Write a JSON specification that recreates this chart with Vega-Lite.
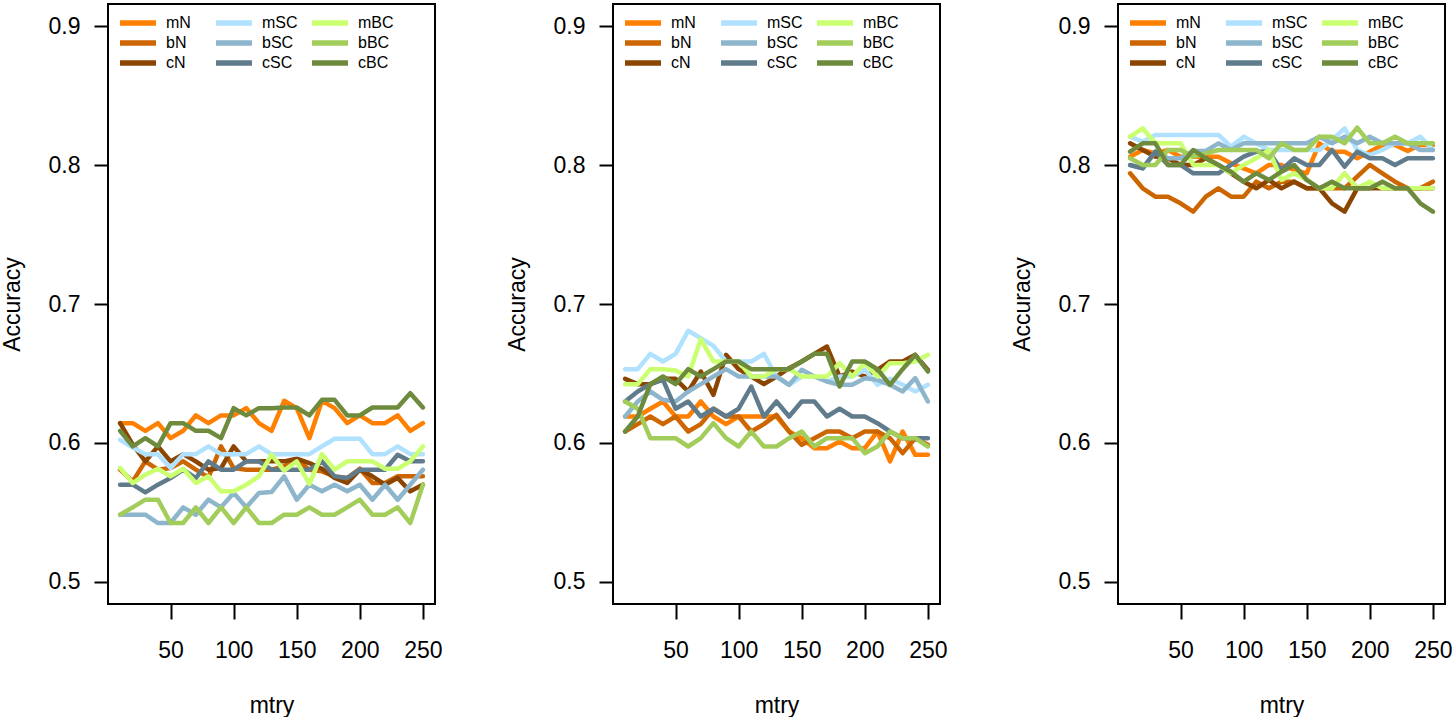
{
"$schema": "https://vega.github.io/schema/vega-lite/v6.json",
"padding": {"left": 0, "top": 3, "right": 0, "bottom": 0},
"background": "white",
"data": {"values": [
{"p":1,"s":"mN","x":10,"y":0.6142},{"p":1,"s":"mN","x":20,"y":0.6142},{"p":1,"s":"mN","x":30,"y":0.6087},{"p":1,"s":"mN","x":40,"y":0.6142},{"p":1,"s":"mN","x":50,"y":0.6034},{"p":1,"s":"mN","x":60,"y":0.6087},{"p":1,"s":"mN","x":70,"y":0.6198},{"p":1,"s":"mN","x":80,"y":0.6142},{"p":1,"s":"mN","x":90,"y":0.6198},{"p":1,"s":"mN","x":100,"y":0.6198},{"p":1,"s":"mN","x":110,"y":0.6250},{"p":1,"s":"mN","x":120,"y":0.6142},{"p":1,"s":"mN","x":130,"y":0.6087},{"p":1,"s":"mN","x":140,"y":0.6303},{"p":1,"s":"mN","x":150,"y":0.6250},{"p":1,"s":"mN","x":160,"y":0.6034},{"p":1,"s":"mN","x":170,"y":0.6303},{"p":1,"s":"mN","x":180,"y":0.6250},{"p":1,"s":"mN","x":190,"y":0.6142},{"p":1,"s":"mN","x":200,"y":0.6198},{"p":1,"s":"mN","x":210,"y":0.6142},{"p":1,"s":"mN","x":220,"y":0.6142},{"p":1,"s":"mN","x":230,"y":0.6198},{"p":1,"s":"mN","x":240,"y":0.6087},{"p":1,"s":"mN","x":250,"y":0.6142},
{"p":1,"s":"bN","x":10,"y":0.5807},{"p":1,"s":"bN","x":20,"y":0.5723},{"p":1,"s":"bN","x":30,"y":0.5867},{"p":1,"s":"bN","x":40,"y":0.5807},{"p":1,"s":"bN","x":50,"y":0.5819},{"p":1,"s":"bN","x":60,"y":0.5867},{"p":1,"s":"bN","x":70,"y":0.5807},{"p":1,"s":"bN","x":80,"y":0.5752},{"p":1,"s":"bN","x":90,"y":0.5975},{"p":1,"s":"bN","x":100,"y":0.5819},{"p":1,"s":"bN","x":110,"y":0.5807},{"p":1,"s":"bN","x":120,"y":0.5807},{"p":1,"s":"bN","x":130,"y":0.5807},{"p":1,"s":"bN","x":140,"y":0.5831},{"p":1,"s":"bN","x":150,"y":0.5879},{"p":1,"s":"bN","x":160,"y":0.5807},{"p":1,"s":"bN","x":170,"y":0.5795},{"p":1,"s":"bN","x":180,"y":0.5759},{"p":1,"s":"bN","x":190,"y":0.5747},{"p":1,"s":"bN","x":200,"y":0.5814},{"p":1,"s":"bN","x":210,"y":0.5711},{"p":1,"s":"bN","x":220,"y":0.5711},{"p":1,"s":"bN","x":230,"y":0.5759},{"p":1,"s":"bN","x":240,"y":0.5759},{"p":1,"s":"bN","x":250,"y":0.5759},
{"p":1,"s":"cN","x":10,"y":0.6142},{"p":1,"s":"cN","x":20,"y":0.5987},{"p":1,"s":"cN","x":30,"y":0.5867},{"p":1,"s":"cN","x":40,"y":0.5975},{"p":1,"s":"cN","x":50,"y":0.5867},{"p":1,"s":"cN","x":60,"y":0.5919},{"p":1,"s":"cN","x":70,"y":0.5867},{"p":1,"s":"cN","x":80,"y":0.5807},{"p":1,"s":"cN","x":90,"y":0.5819},{"p":1,"s":"cN","x":100,"y":0.5975},{"p":1,"s":"cN","x":110,"y":0.5867},{"p":1,"s":"cN","x":120,"y":0.5867},{"p":1,"s":"cN","x":130,"y":0.5867},{"p":1,"s":"cN","x":140,"y":0.5867},{"p":1,"s":"cN","x":150,"y":0.5886},{"p":1,"s":"cN","x":160,"y":0.5855},{"p":1,"s":"cN","x":170,"y":0.5814},{"p":1,"s":"cN","x":180,"y":0.5747},{"p":1,"s":"cN","x":190,"y":0.5711},{"p":1,"s":"cN","x":200,"y":0.5807},{"p":1,"s":"cN","x":210,"y":0.5759},{"p":1,"s":"cN","x":220,"y":0.5699},{"p":1,"s":"cN","x":230,"y":0.5747},{"p":1,"s":"cN","x":240,"y":0.5651},{"p":1,"s":"cN","x":250,"y":0.5699},
{"p":1,"s":"mSC","x":10,"y":0.6022},{"p":1,"s":"mSC","x":20,"y":0.5967},{"p":1,"s":"mSC","x":30,"y":0.5919},{"p":1,"s":"mSC","x":40,"y":0.5919},{"p":1,"s":"mSC","x":50,"y":0.5819},{"p":1,"s":"mSC","x":60,"y":0.5919},{"p":1,"s":"mSC","x":70,"y":0.5919},{"p":1,"s":"mSC","x":80,"y":0.5975},{"p":1,"s":"mSC","x":90,"y":0.5919},{"p":1,"s":"mSC","x":100,"y":0.5919},{"p":1,"s":"mSC","x":110,"y":0.5919},{"p":1,"s":"mSC","x":120,"y":0.5975},{"p":1,"s":"mSC","x":130,"y":0.5919},{"p":1,"s":"mSC","x":140,"y":0.5919},{"p":1,"s":"mSC","x":150,"y":0.5919},{"p":1,"s":"mSC","x":160,"y":0.5919},{"p":1,"s":"mSC","x":170,"y":0.5975},{"p":1,"s":"mSC","x":180,"y":0.6030},{"p":1,"s":"mSC","x":190,"y":0.6030},{"p":1,"s":"mSC","x":200,"y":0.6030},{"p":1,"s":"mSC","x":210,"y":0.5919},{"p":1,"s":"mSC","x":220,"y":0.5919},{"p":1,"s":"mSC","x":230,"y":0.5975},{"p":1,"s":"mSC","x":240,"y":0.5919},{"p":1,"s":"mSC","x":250,"y":0.5919},
{"p":1,"s":"bSC","x":10,"y":0.5483},{"p":1,"s":"bSC","x":20,"y":0.5483},{"p":1,"s":"bSC","x":30,"y":0.5483},{"p":1,"s":"bSC","x":40,"y":0.5423},{"p":1,"s":"bSC","x":50,"y":0.5423},{"p":1,"s":"bSC","x":60,"y":0.5536},{"p":1,"s":"bSC","x":70,"y":0.5483},{"p":1,"s":"bSC","x":80,"y":0.5591},{"p":1,"s":"bSC","x":90,"y":0.5536},{"p":1,"s":"bSC","x":100,"y":0.5639},{"p":1,"s":"bSC","x":110,"y":0.5536},{"p":1,"s":"bSC","x":120,"y":0.5639},{"p":1,"s":"bSC","x":130,"y":0.5646},{"p":1,"s":"bSC","x":140,"y":0.5759},{"p":1,"s":"bSC","x":150,"y":0.5591},{"p":1,"s":"bSC","x":160,"y":0.5699},{"p":1,"s":"bSC","x":170,"y":0.5651},{"p":1,"s":"bSC","x":180,"y":0.5699},{"p":1,"s":"bSC","x":190,"y":0.5651},{"p":1,"s":"bSC","x":200,"y":0.5699},{"p":1,"s":"bSC","x":210,"y":0.5591},{"p":1,"s":"bSC","x":220,"y":0.5699},{"p":1,"s":"bSC","x":230,"y":0.5591},{"p":1,"s":"bSC","x":240,"y":0.5699},{"p":1,"s":"bSC","x":250,"y":0.5807},
{"p":1,"s":"cSC","x":10,"y":0.5699},{"p":1,"s":"cSC","x":20,"y":0.5699},{"p":1,"s":"cSC","x":30,"y":0.5644},{"p":1,"s":"cSC","x":40,"y":0.5699},{"p":1,"s":"cSC","x":50,"y":0.5747},{"p":1,"s":"cSC","x":60,"y":0.5807},{"p":1,"s":"cSC","x":70,"y":0.5747},{"p":1,"s":"cSC","x":80,"y":0.5867},{"p":1,"s":"cSC","x":90,"y":0.5807},{"p":1,"s":"cSC","x":100,"y":0.5807},{"p":1,"s":"cSC","x":110,"y":0.5867},{"p":1,"s":"cSC","x":120,"y":0.5867},{"p":1,"s":"cSC","x":130,"y":0.5807},{"p":1,"s":"cSC","x":140,"y":0.5807},{"p":1,"s":"cSC","x":150,"y":0.5807},{"p":1,"s":"cSC","x":160,"y":0.5807},{"p":1,"s":"cSC","x":170,"y":0.5867},{"p":1,"s":"cSC","x":180,"y":0.5759},{"p":1,"s":"cSC","x":190,"y":0.5747},{"p":1,"s":"cSC","x":200,"y":0.5807},{"p":1,"s":"cSC","x":210,"y":0.5807},{"p":1,"s":"cSC","x":220,"y":0.5807},{"p":1,"s":"cSC","x":230,"y":0.5915},{"p":1,"s":"cSC","x":240,"y":0.5867},{"p":1,"s":"cSC","x":250,"y":0.5867},
{"p":1,"s":"mBC","x":10,"y":0.5819},{"p":1,"s":"mBC","x":20,"y":0.5711},{"p":1,"s":"mBC","x":30,"y":0.5771},{"p":1,"s":"mBC","x":40,"y":0.5814},{"p":1,"s":"mBC","x":50,"y":0.5759},{"p":1,"s":"mBC","x":60,"y":0.5814},{"p":1,"s":"mBC","x":70,"y":0.5711},{"p":1,"s":"mBC","x":80,"y":0.5759},{"p":1,"s":"mBC","x":90,"y":0.5651},{"p":1,"s":"mBC","x":100,"y":0.5651},{"p":1,"s":"mBC","x":110,"y":0.5699},{"p":1,"s":"mBC","x":120,"y":0.5759},{"p":1,"s":"mBC","x":130,"y":0.5915},{"p":1,"s":"mBC","x":140,"y":0.5800},{"p":1,"s":"mBC","x":150,"y":0.5867},{"p":1,"s":"mBC","x":160,"y":0.5704},{"p":1,"s":"mBC","x":170,"y":0.5919},{"p":1,"s":"mBC","x":180,"y":0.5807},{"p":1,"s":"mBC","x":190,"y":0.5867},{"p":1,"s":"mBC","x":200,"y":0.5867},{"p":1,"s":"mBC","x":210,"y":0.5867},{"p":1,"s":"mBC","x":220,"y":0.5814},{"p":1,"s":"mBC","x":230,"y":0.5814},{"p":1,"s":"mBC","x":240,"y":0.5867},{"p":1,"s":"mBC","x":250,"y":0.5975},
{"p":1,"s":"bBC","x":10,"y":0.5483},{"p":1,"s":"bBC","x":20,"y":0.5536},{"p":1,"s":"bBC","x":30,"y":0.5591},{"p":1,"s":"bBC","x":40,"y":0.5591},{"p":1,"s":"bBC","x":50,"y":0.5423},{"p":1,"s":"bBC","x":60,"y":0.5423},{"p":1,"s":"bBC","x":70,"y":0.5536},{"p":1,"s":"bBC","x":80,"y":0.5423},{"p":1,"s":"bBC","x":90,"y":0.5536},{"p":1,"s":"bBC","x":100,"y":0.5423},{"p":1,"s":"bBC","x":110,"y":0.5536},{"p":1,"s":"bBC","x":120,"y":0.5423},{"p":1,"s":"bBC","x":130,"y":0.5423},{"p":1,"s":"bBC","x":140,"y":0.5483},{"p":1,"s":"bBC","x":150,"y":0.5483},{"p":1,"s":"bBC","x":160,"y":0.5536},{"p":1,"s":"bBC","x":170,"y":0.5483},{"p":1,"s":"bBC","x":180,"y":0.5483},{"p":1,"s":"bBC","x":190,"y":0.5536},{"p":1,"s":"bBC","x":200,"y":0.5591},{"p":1,"s":"bBC","x":210,"y":0.5483},{"p":1,"s":"bBC","x":220,"y":0.5483},{"p":1,"s":"bBC","x":230,"y":0.5536},{"p":1,"s":"bBC","x":240,"y":0.5423},{"p":1,"s":"bBC","x":250,"y":0.5699},
{"p":1,"s":"cBC","x":10,"y":0.6087},{"p":1,"s":"cBC","x":20,"y":0.5975},{"p":1,"s":"cBC","x":30,"y":0.6034},{"p":1,"s":"cBC","x":40,"y":0.5975},{"p":1,"s":"cBC","x":50,"y":0.6142},{"p":1,"s":"cBC","x":60,"y":0.6142},{"p":1,"s":"cBC","x":70,"y":0.6087},{"p":1,"s":"cBC","x":80,"y":0.6087},{"p":1,"s":"cBC","x":90,"y":0.6034},{"p":1,"s":"cBC","x":100,"y":0.6250},{"p":1,"s":"cBC","x":110,"y":0.6198},{"p":1,"s":"cBC","x":120,"y":0.6250},{"p":1,"s":"cBC","x":130,"y":0.6250},{"p":1,"s":"cBC","x":140,"y":0.6255},{"p":1,"s":"cBC","x":150,"y":0.6255},{"p":1,"s":"cBC","x":160,"y":0.6198},{"p":1,"s":"cBC","x":170,"y":0.6310},{"p":1,"s":"cBC","x":180,"y":0.6310},{"p":1,"s":"cBC","x":190,"y":0.6198},{"p":1,"s":"cBC","x":200,"y":0.6198},{"p":1,"s":"cBC","x":210,"y":0.6255},{"p":1,"s":"cBC","x":220,"y":0.6255},{"p":1,"s":"cBC","x":230,"y":0.6255},{"p":1,"s":"cBC","x":240,"y":0.6358},{"p":1,"s":"cBC","x":250,"y":0.6255},
{"p":2,"s":"mN","x":10,"y":0.6190},{"p":2,"s":"mN","x":20,"y":0.6190},{"p":2,"s":"mN","x":30,"y":0.6246},{"p":2,"s":"mN","x":40,"y":0.6298},{"p":2,"s":"mN","x":50,"y":0.6190},{"p":2,"s":"mN","x":60,"y":0.6190},{"p":2,"s":"mN","x":70,"y":0.6298},{"p":2,"s":"mN","x":80,"y":0.6190},{"p":2,"s":"mN","x":90,"y":0.6135},{"p":2,"s":"mN","x":100,"y":0.6190},{"p":2,"s":"mN","x":110,"y":0.6190},{"p":2,"s":"mN","x":120,"y":0.6190},{"p":2,"s":"mN","x":130,"y":0.6190},{"p":2,"s":"mN","x":140,"y":0.6082},{"p":2,"s":"mN","x":150,"y":0.6034},{"p":2,"s":"mN","x":160,"y":0.5962},{"p":2,"s":"mN","x":170,"y":0.5962},{"p":2,"s":"mN","x":180,"y":0.6010},{"p":2,"s":"mN","x":190,"y":0.5962},{"p":2,"s":"mN","x":200,"y":0.5962},{"p":2,"s":"mN","x":210,"y":0.6082},{"p":2,"s":"mN","x":220,"y":0.5867},{"p":2,"s":"mN","x":230,"y":0.6082},{"p":2,"s":"mN","x":240,"y":0.5914},{"p":2,"s":"mN","x":250,"y":0.5914},
{"p":2,"s":"bN","x":10,"y":0.6082},{"p":2,"s":"bN","x":20,"y":0.6135},{"p":2,"s":"bN","x":30,"y":0.6190},{"p":2,"s":"bN","x":40,"y":0.6135},{"p":2,"s":"bN","x":50,"y":0.6190},{"p":2,"s":"bN","x":60,"y":0.6082},{"p":2,"s":"bN","x":70,"y":0.6135},{"p":2,"s":"bN","x":80,"y":0.6246},{"p":2,"s":"bN","x":90,"y":0.6190},{"p":2,"s":"bN","x":100,"y":0.6190},{"p":2,"s":"bN","x":110,"y":0.6082},{"p":2,"s":"bN","x":120,"y":0.6135},{"p":2,"s":"bN","x":130,"y":0.6202},{"p":2,"s":"bN","x":140,"y":0.6082},{"p":2,"s":"bN","x":150,"y":0.5986},{"p":2,"s":"bN","x":160,"y":0.6034},{"p":2,"s":"bN","x":170,"y":0.6082},{"p":2,"s":"bN","x":180,"y":0.6082},{"p":2,"s":"bN","x":190,"y":0.6034},{"p":2,"s":"bN","x":200,"y":0.6082},{"p":2,"s":"bN","x":210,"y":0.6082},{"p":2,"s":"bN","x":220,"y":0.6034},{"p":2,"s":"bN","x":230,"y":0.5926},{"p":2,"s":"bN","x":240,"y":0.6034},{"p":2,"s":"bN","x":250,"y":0.5986},
{"p":2,"s":"cN","x":10,"y":0.6461},{"p":2,"s":"cN","x":20,"y":0.6423},{"p":2,"s":"cN","x":30,"y":0.6423},{"p":2,"s":"cN","x":40,"y":0.6461},{"p":2,"s":"cN","x":50,"y":0.6461},{"p":2,"s":"cN","x":60,"y":0.6370},{"p":2,"s":"cN","x":70,"y":0.6514},{"p":2,"s":"cN","x":80,"y":0.6346},{"p":2,"s":"cN","x":90,"y":0.6634},{"p":2,"s":"cN","x":100,"y":0.6531},{"p":2,"s":"cN","x":110,"y":0.6478},{"p":2,"s":"cN","x":120,"y":0.6423},{"p":2,"s":"cN","x":130,"y":0.6478},{"p":2,"s":"cN","x":140,"y":0.6538},{"p":2,"s":"cN","x":150,"y":0.6586},{"p":2,"s":"cN","x":160,"y":0.6641},{"p":2,"s":"cN","x":170,"y":0.6694},{"p":2,"s":"cN","x":180,"y":0.6478},{"p":2,"s":"cN","x":190,"y":0.6514},{"p":2,"s":"cN","x":200,"y":0.6478},{"p":2,"s":"cN","x":210,"y":0.6526},{"p":2,"s":"cN","x":220,"y":0.6586},{"p":2,"s":"cN","x":230,"y":0.6586},{"p":2,"s":"cN","x":240,"y":0.6634},{"p":2,"s":"cN","x":250,"y":0.6526},
{"p":2,"s":"mSC","x":10,"y":0.6531},{"p":2,"s":"mSC","x":20,"y":0.6531},{"p":2,"s":"mSC","x":30,"y":0.6641},{"p":2,"s":"mSC","x":40,"y":0.6586},{"p":2,"s":"mSC","x":50,"y":0.6641},{"p":2,"s":"mSC","x":60,"y":0.6807},{"p":2,"s":"mSC","x":70,"y":0.6754},{"p":2,"s":"mSC","x":80,"y":0.6699},{"p":2,"s":"mSC","x":90,"y":0.6586},{"p":2,"s":"mSC","x":100,"y":0.6586},{"p":2,"s":"mSC","x":110,"y":0.6586},{"p":2,"s":"mSC","x":120,"y":0.6641},{"p":2,"s":"mSC","x":130,"y":0.6478},{"p":2,"s":"mSC","x":140,"y":0.6418},{"p":2,"s":"mSC","x":150,"y":0.6478},{"p":2,"s":"mSC","x":160,"y":0.6478},{"p":2,"s":"mSC","x":170,"y":0.6442},{"p":2,"s":"mSC","x":180,"y":0.6478},{"p":2,"s":"mSC","x":190,"y":0.6478},{"p":2,"s":"mSC","x":200,"y":0.6526},{"p":2,"s":"mSC","x":210,"y":0.6418},{"p":2,"s":"mSC","x":220,"y":0.6461},{"p":2,"s":"mSC","x":230,"y":0.6418},{"p":2,"s":"mSC","x":240,"y":0.6370},{"p":2,"s":"mSC","x":250,"y":0.6418},
{"p":2,"s":"bSC","x":10,"y":0.6190},{"p":2,"s":"bSC","x":20,"y":0.6298},{"p":2,"s":"bSC","x":30,"y":0.6370},{"p":2,"s":"bSC","x":40,"y":0.6310},{"p":2,"s":"bSC","x":50,"y":0.6298},{"p":2,"s":"bSC","x":60,"y":0.6370},{"p":2,"s":"bSC","x":70,"y":0.6423},{"p":2,"s":"bSC","x":80,"y":0.6478},{"p":2,"s":"bSC","x":90,"y":0.6531},{"p":2,"s":"bSC","x":100,"y":0.6478},{"p":2,"s":"bSC","x":110,"y":0.6478},{"p":2,"s":"bSC","x":120,"y":0.6478},{"p":2,"s":"bSC","x":130,"y":0.6478},{"p":2,"s":"bSC","x":140,"y":0.6418},{"p":2,"s":"bSC","x":150,"y":0.6526},{"p":2,"s":"bSC","x":160,"y":0.6478},{"p":2,"s":"bSC","x":170,"y":0.6442},{"p":2,"s":"bSC","x":180,"y":0.6418},{"p":2,"s":"bSC","x":190,"y":0.6418},{"p":2,"s":"bSC","x":200,"y":0.6466},{"p":2,"s":"bSC","x":210,"y":0.6454},{"p":2,"s":"bSC","x":220,"y":0.6418},{"p":2,"s":"bSC","x":230,"y":0.6370},{"p":2,"s":"bSC","x":240,"y":0.6466},{"p":2,"s":"bSC","x":250,"y":0.6298},
{"p":2,"s":"cSC","x":10,"y":0.6298},{"p":2,"s":"cSC","x":20,"y":0.6370},{"p":2,"s":"cSC","x":30,"y":0.6423},{"p":2,"s":"cSC","x":40,"y":0.6454},{"p":2,"s":"cSC","x":50,"y":0.6246},{"p":2,"s":"cSC","x":60,"y":0.6298},{"p":2,"s":"cSC","x":70,"y":0.6190},{"p":2,"s":"cSC","x":80,"y":0.6246},{"p":2,"s":"cSC","x":90,"y":0.6190},{"p":2,"s":"cSC","x":100,"y":0.6246},{"p":2,"s":"cSC","x":110,"y":0.6406},{"p":2,"s":"cSC","x":120,"y":0.6190},{"p":2,"s":"cSC","x":130,"y":0.6298},{"p":2,"s":"cSC","x":140,"y":0.6190},{"p":2,"s":"cSC","x":150,"y":0.6298},{"p":2,"s":"cSC","x":160,"y":0.6298},{"p":2,"s":"cSC","x":170,"y":0.6190},{"p":2,"s":"cSC","x":180,"y":0.6246},{"p":2,"s":"cSC","x":190,"y":0.6190},{"p":2,"s":"cSC","x":200,"y":0.6190},{"p":2,"s":"cSC","x":210,"y":0.6142},{"p":2,"s":"cSC","x":220,"y":0.6082},{"p":2,"s":"cSC","x":230,"y":0.6034},{"p":2,"s":"cSC","x":240,"y":0.6034},{"p":2,"s":"cSC","x":250,"y":0.6034},
{"p":2,"s":"mBC","x":10,"y":0.6423},{"p":2,"s":"mBC","x":20,"y":0.6423},{"p":2,"s":"mBC","x":30,"y":0.6531},{"p":2,"s":"mBC","x":40,"y":0.6531},{"p":2,"s":"mBC","x":50,"y":0.6521},{"p":2,"s":"mBC","x":60,"y":0.6478},{"p":2,"s":"mBC","x":70,"y":0.6747},{"p":2,"s":"mBC","x":80,"y":0.6586},{"p":2,"s":"mBC","x":90,"y":0.6586},{"p":2,"s":"mBC","x":100,"y":0.6586},{"p":2,"s":"mBC","x":110,"y":0.6478},{"p":2,"s":"mBC","x":120,"y":0.6478},{"p":2,"s":"mBC","x":130,"y":0.6531},{"p":2,"s":"mBC","x":140,"y":0.6531},{"p":2,"s":"mBC","x":150,"y":0.6478},{"p":2,"s":"mBC","x":160,"y":0.6478},{"p":2,"s":"mBC","x":170,"y":0.6478},{"p":2,"s":"mBC","x":180,"y":0.6574},{"p":2,"s":"mBC","x":190,"y":0.6478},{"p":2,"s":"mBC","x":200,"y":0.6574},{"p":2,"s":"mBC","x":210,"y":0.6478},{"p":2,"s":"mBC","x":220,"y":0.6574},{"p":2,"s":"mBC","x":230,"y":0.6574},{"p":2,"s":"mBC","x":240,"y":0.6586},{"p":2,"s":"mBC","x":250,"y":0.6634},
{"p":2,"s":"bBC","x":10,"y":0.6298},{"p":2,"s":"bBC","x":20,"y":0.6246},{"p":2,"s":"bBC","x":30,"y":0.6034},{"p":2,"s":"bBC","x":40,"y":0.6034},{"p":2,"s":"bBC","x":50,"y":0.6034},{"p":2,"s":"bBC","x":60,"y":0.5974},{"p":2,"s":"bBC","x":70,"y":0.6034},{"p":2,"s":"bBC","x":80,"y":0.6142},{"p":2,"s":"bBC","x":90,"y":0.6034},{"p":2,"s":"bBC","x":100,"y":0.5974},{"p":2,"s":"bBC","x":110,"y":0.6082},{"p":2,"s":"bBC","x":120,"y":0.5974},{"p":2,"s":"bBC","x":130,"y":0.5974},{"p":2,"s":"bBC","x":140,"y":0.6034},{"p":2,"s":"bBC","x":150,"y":0.6082},{"p":2,"s":"bBC","x":160,"y":0.5974},{"p":2,"s":"bBC","x":170,"y":0.6034},{"p":2,"s":"bBC","x":180,"y":0.6034},{"p":2,"s":"bBC","x":190,"y":0.6034},{"p":2,"s":"bBC","x":200,"y":0.5926},{"p":2,"s":"bBC","x":210,"y":0.5974},{"p":2,"s":"bBC","x":220,"y":0.6082},{"p":2,"s":"bBC","x":230,"y":0.6034},{"p":2,"s":"bBC","x":240,"y":0.6034},{"p":2,"s":"bBC","x":250,"y":0.5974},
{"p":2,"s":"cBC","x":10,"y":0.6082},{"p":2,"s":"cBC","x":20,"y":0.6190},{"p":2,"s":"cBC","x":30,"y":0.6423},{"p":2,"s":"cBC","x":40,"y":0.6478},{"p":2,"s":"cBC","x":50,"y":0.6423},{"p":2,"s":"cBC","x":60,"y":0.6531},{"p":2,"s":"cBC","x":70,"y":0.6478},{"p":2,"s":"cBC","x":80,"y":0.6531},{"p":2,"s":"cBC","x":90,"y":0.6586},{"p":2,"s":"cBC","x":100,"y":0.6586},{"p":2,"s":"cBC","x":110,"y":0.6531},{"p":2,"s":"cBC","x":120,"y":0.6531},{"p":2,"s":"cBC","x":130,"y":0.6531},{"p":2,"s":"cBC","x":140,"y":0.6531},{"p":2,"s":"cBC","x":150,"y":0.6586},{"p":2,"s":"cBC","x":160,"y":0.6641},{"p":2,"s":"cBC","x":170,"y":0.6641},{"p":2,"s":"cBC","x":180,"y":0.6406},{"p":2,"s":"cBC","x":190,"y":0.6586},{"p":2,"s":"cBC","x":200,"y":0.6586},{"p":2,"s":"cBC","x":210,"y":0.6531},{"p":2,"s":"cBC","x":220,"y":0.6418},{"p":2,"s":"cBC","x":230,"y":0.6531},{"p":2,"s":"cBC","x":240,"y":0.6634},{"p":2,"s":"cBC","x":250,"y":0.6514},
{"p":3,"s":"mN","x":10,"y":0.8061},{"p":3,"s":"mN","x":20,"y":0.8109},{"p":3,"s":"mN","x":30,"y":0.8085},{"p":3,"s":"mN","x":40,"y":0.8109},{"p":3,"s":"mN","x":50,"y":0.8061},{"p":3,"s":"mN","x":60,"y":0.8061},{"p":3,"s":"mN","x":70,"y":0.8061},{"p":3,"s":"mN","x":80,"y":0.8061},{"p":3,"s":"mN","x":90,"y":0.8013},{"p":3,"s":"mN","x":100,"y":0.7977},{"p":3,"s":"mN","x":110,"y":0.7941},{"p":3,"s":"mN","x":120,"y":0.8001},{"p":3,"s":"mN","x":130,"y":0.8001},{"p":3,"s":"mN","x":140,"y":0.7965},{"p":3,"s":"mN","x":150,"y":0.7941},{"p":3,"s":"mN","x":160,"y":0.8157},{"p":3,"s":"mN","x":170,"y":0.8097},{"p":3,"s":"mN","x":180,"y":0.8097},{"p":3,"s":"mN","x":190,"y":0.8049},{"p":3,"s":"mN","x":200,"y":0.8097},{"p":3,"s":"mN","x":210,"y":0.8145},{"p":3,"s":"mN","x":220,"y":0.8145},{"p":3,"s":"mN","x":230,"y":0.8102},{"p":3,"s":"mN","x":240,"y":0.8145},{"p":3,"s":"mN","x":250,"y":0.8145},
{"p":3,"s":"bN","x":10,"y":0.7941},{"p":3,"s":"bN","x":20,"y":0.7833},{"p":3,"s":"bN","x":30,"y":0.7773},{"p":3,"s":"bN","x":40,"y":0.7773},{"p":3,"s":"bN","x":50,"y":0.7725},{"p":3,"s":"bN","x":60,"y":0.7665},{"p":3,"s":"bN","x":70,"y":0.7773},{"p":3,"s":"bN","x":80,"y":0.7833},{"p":3,"s":"bN","x":90,"y":0.7773},{"p":3,"s":"bN","x":100,"y":0.7773},{"p":3,"s":"bN","x":110,"y":0.7881},{"p":3,"s":"bN","x":120,"y":0.7833},{"p":3,"s":"bN","x":130,"y":0.7881},{"p":3,"s":"bN","x":140,"y":0.7881},{"p":3,"s":"bN","x":150,"y":0.7833},{"p":3,"s":"bN","x":160,"y":0.7833},{"p":3,"s":"bN","x":170,"y":0.7833},{"p":3,"s":"bN","x":180,"y":0.7833},{"p":3,"s":"bN","x":190,"y":0.7917},{"p":3,"s":"bN","x":200,"y":0.8001},{"p":3,"s":"bN","x":210,"y":0.7941},{"p":3,"s":"bN","x":220,"y":0.7881},{"p":3,"s":"bN","x":230,"y":0.7833},{"p":3,"s":"bN","x":240,"y":0.7833},{"p":3,"s":"bN","x":250,"y":0.7881},
{"p":3,"s":"cN","x":10,"y":0.8157},{"p":3,"s":"cN","x":20,"y":0.8109},{"p":3,"s":"cN","x":30,"y":0.8061},{"p":3,"s":"cN","x":40,"y":0.8049},{"p":3,"s":"cN","x":50,"y":0.8001},{"p":3,"s":"cN","x":60,"y":0.8001},{"p":3,"s":"cN","x":70,"y":0.8049},{"p":3,"s":"cN","x":80,"y":0.8001},{"p":3,"s":"cN","x":90,"y":0.7941},{"p":3,"s":"cN","x":100,"y":0.7881},{"p":3,"s":"cN","x":110,"y":0.7833},{"p":3,"s":"cN","x":120,"y":0.7893},{"p":3,"s":"cN","x":130,"y":0.7833},{"p":3,"s":"cN","x":140,"y":0.7881},{"p":3,"s":"cN","x":150,"y":0.7833},{"p":3,"s":"cN","x":160,"y":0.7833},{"p":3,"s":"cN","x":170,"y":0.7725},{"p":3,"s":"cN","x":180,"y":0.7665},{"p":3,"s":"cN","x":190,"y":0.7833},{"p":3,"s":"cN","x":200,"y":0.7833},{"p":3,"s":"cN","x":210,"y":0.7833},{"p":3,"s":"cN","x":220,"y":0.7833},{"p":3,"s":"cN","x":230,"y":0.7833},{"p":3,"s":"cN","x":240,"y":0.7833},{"p":3,"s":"cN","x":250,"y":0.7833},
{"p":3,"s":"mSC","x":10,"y":0.8205},{"p":3,"s":"mSC","x":20,"y":0.8169},{"p":3,"s":"mSC","x":30,"y":0.8217},{"p":3,"s":"mSC","x":40,"y":0.8217},{"p":3,"s":"mSC","x":50,"y":0.8217},{"p":3,"s":"mSC","x":60,"y":0.8217},{"p":3,"s":"mSC","x":70,"y":0.8217},{"p":3,"s":"mSC","x":80,"y":0.8217},{"p":3,"s":"mSC","x":90,"y":0.8133},{"p":3,"s":"mSC","x":100,"y":0.8205},{"p":3,"s":"mSC","x":110,"y":0.8157},{"p":3,"s":"mSC","x":120,"y":0.8109},{"p":3,"s":"mSC","x":130,"y":0.8109},{"p":3,"s":"mSC","x":140,"y":0.8109},{"p":3,"s":"mSC","x":150,"y":0.8109},{"p":3,"s":"mSC","x":160,"y":0.8109},{"p":3,"s":"mSC","x":170,"y":0.8181},{"p":3,"s":"mSC","x":180,"y":0.8265},{"p":3,"s":"mSC","x":190,"y":0.8109},{"p":3,"s":"mSC","x":200,"y":0.8073},{"p":3,"s":"mSC","x":210,"y":0.8109},{"p":3,"s":"mSC","x":220,"y":0.8157},{"p":3,"s":"mSC","x":230,"y":0.8157},{"p":3,"s":"mSC","x":240,"y":0.8205},{"p":3,"s":"mSC","x":250,"y":0.8109},
{"p":3,"s":"bSC","x":10,"y":0.8001},{"p":3,"s":"bSC","x":20,"y":0.7977},{"p":3,"s":"bSC","x":30,"y":0.8097},{"p":3,"s":"bSC","x":40,"y":0.8049},{"p":3,"s":"bSC","x":50,"y":0.8049},{"p":3,"s":"bSC","x":60,"y":0.8102},{"p":3,"s":"bSC","x":70,"y":0.8102},{"p":3,"s":"bSC","x":80,"y":0.8157},{"p":3,"s":"bSC","x":90,"y":0.8109},{"p":3,"s":"bSC","x":100,"y":0.8157},{"p":3,"s":"bSC","x":110,"y":0.8157},{"p":3,"s":"bSC","x":120,"y":0.8157},{"p":3,"s":"bSC","x":130,"y":0.8157},{"p":3,"s":"bSC","x":140,"y":0.8157},{"p":3,"s":"bSC","x":150,"y":0.8157},{"p":3,"s":"bSC","x":160,"y":0.8205},{"p":3,"s":"bSC","x":170,"y":0.8157},{"p":3,"s":"bSC","x":180,"y":0.8205},{"p":3,"s":"bSC","x":190,"y":0.8157},{"p":3,"s":"bSC","x":200,"y":0.8205},{"p":3,"s":"bSC","x":210,"y":0.8157},{"p":3,"s":"bSC","x":220,"y":0.8157},{"p":3,"s":"bSC","x":230,"y":0.8157},{"p":3,"s":"bSC","x":240,"y":0.8109},{"p":3,"s":"bSC","x":250,"y":0.8109},
{"p":3,"s":"cSC","x":10,"y":0.8001},{"p":3,"s":"cSC","x":20,"y":0.7977},{"p":3,"s":"cSC","x":30,"y":0.8097},{"p":3,"s":"cSC","x":40,"y":0.8001},{"p":3,"s":"cSC","x":50,"y":0.8001},{"p":3,"s":"cSC","x":60,"y":0.7941},{"p":3,"s":"cSC","x":70,"y":0.7941},{"p":3,"s":"cSC","x":80,"y":0.7941},{"p":3,"s":"cSC","x":90,"y":0.8001},{"p":3,"s":"cSC","x":100,"y":0.8061},{"p":3,"s":"cSC","x":110,"y":0.8097},{"p":3,"s":"cSC","x":120,"y":0.8097},{"p":3,"s":"cSC","x":130,"y":0.7965},{"p":3,"s":"cSC","x":140,"y":0.8049},{"p":3,"s":"cSC","x":150,"y":0.8001},{"p":3,"s":"cSC","x":160,"y":0.8001},{"p":3,"s":"cSC","x":170,"y":0.8109},{"p":3,"s":"cSC","x":180,"y":0.7989},{"p":3,"s":"cSC","x":190,"y":0.8097},{"p":3,"s":"cSC","x":200,"y":0.8049},{"p":3,"s":"cSC","x":210,"y":0.8049},{"p":3,"s":"cSC","x":220,"y":0.8001},{"p":3,"s":"cSC","x":230,"y":0.8049},{"p":3,"s":"cSC","x":240,"y":0.8049},{"p":3,"s":"cSC","x":250,"y":0.8049},
{"p":3,"s":"mBC","x":10,"y":0.8205},{"p":3,"s":"mBC","x":20,"y":0.8265},{"p":3,"s":"mBC","x":30,"y":0.8157},{"p":3,"s":"mBC","x":40,"y":0.8157},{"p":3,"s":"mBC","x":50,"y":0.8157},{"p":3,"s":"mBC","x":60,"y":0.8001},{"p":3,"s":"mBC","x":70,"y":0.8001},{"p":3,"s":"mBC","x":80,"y":0.8001},{"p":3,"s":"mBC","x":90,"y":0.7941},{"p":3,"s":"mBC","x":100,"y":0.8001},{"p":3,"s":"mBC","x":110,"y":0.8049},{"p":3,"s":"mBC","x":120,"y":0.8109},{"p":3,"s":"mBC","x":130,"y":0.7893},{"p":3,"s":"mBC","x":140,"y":0.7941},{"p":3,"s":"mBC","x":150,"y":0.7893},{"p":3,"s":"mBC","x":160,"y":0.7833},{"p":3,"s":"mBC","x":170,"y":0.7833},{"p":3,"s":"mBC","x":180,"y":0.7941},{"p":3,"s":"mBC","x":190,"y":0.7833},{"p":3,"s":"mBC","x":200,"y":0.7881},{"p":3,"s":"mBC","x":210,"y":0.7833},{"p":3,"s":"mBC","x":220,"y":0.7833},{"p":3,"s":"mBC","x":230,"y":0.7833},{"p":3,"s":"mBC","x":240,"y":0.7833},{"p":3,"s":"mBC","x":250,"y":0.7833},
{"p":3,"s":"bBC","x":10,"y":0.8049},{"p":3,"s":"bBC","x":20,"y":0.8001},{"p":3,"s":"bBC","x":30,"y":0.8001},{"p":3,"s":"bBC","x":40,"y":0.8109},{"p":3,"s":"bBC","x":50,"y":0.8109},{"p":3,"s":"bBC","x":60,"y":0.8061},{"p":3,"s":"bBC","x":70,"y":0.8085},{"p":3,"s":"bBC","x":80,"y":0.8109},{"p":3,"s":"bBC","x":90,"y":0.8109},{"p":3,"s":"bBC","x":100,"y":0.8109},{"p":3,"s":"bBC","x":110,"y":0.8109},{"p":3,"s":"bBC","x":120,"y":0.8049},{"p":3,"s":"bBC","x":130,"y":0.8157},{"p":3,"s":"bBC","x":140,"y":0.8109},{"p":3,"s":"bBC","x":150,"y":0.8109},{"p":3,"s":"bBC","x":160,"y":0.8205},{"p":3,"s":"bBC","x":170,"y":0.8205},{"p":3,"s":"bBC","x":180,"y":0.8157},{"p":3,"s":"bBC","x":190,"y":0.8270},{"p":3,"s":"bBC","x":200,"y":0.8157},{"p":3,"s":"bBC","x":210,"y":0.8157},{"p":3,"s":"bBC","x":220,"y":0.8205},{"p":3,"s":"bBC","x":230,"y":0.8157},{"p":3,"s":"bBC","x":240,"y":0.8157},{"p":3,"s":"bBC","x":250,"y":0.8157},
{"p":3,"s":"cBC","x":10,"y":0.8097},{"p":3,"s":"cBC","x":20,"y":0.8157},{"p":3,"s":"cBC","x":30,"y":0.8157},{"p":3,"s":"cBC","x":40,"y":0.8001},{"p":3,"s":"cBC","x":50,"y":0.8001},{"p":3,"s":"cBC","x":60,"y":0.8109},{"p":3,"s":"cBC","x":70,"y":0.8049},{"p":3,"s":"cBC","x":80,"y":0.8001},{"p":3,"s":"cBC","x":90,"y":0.7953},{"p":3,"s":"cBC","x":100,"y":0.7881},{"p":3,"s":"cBC","x":110,"y":0.7941},{"p":3,"s":"cBC","x":120,"y":0.7893},{"p":3,"s":"cBC","x":130,"y":0.7953},{"p":3,"s":"cBC","x":140,"y":0.8001},{"p":3,"s":"cBC","x":150,"y":0.7893},{"p":3,"s":"cBC","x":160,"y":0.7833},{"p":3,"s":"cBC","x":170,"y":0.7881},{"p":3,"s":"cBC","x":180,"y":0.7833},{"p":3,"s":"cBC","x":190,"y":0.7833},{"p":3,"s":"cBC","x":200,"y":0.7833},{"p":3,"s":"cBC","x":210,"y":0.7881},{"p":3,"s":"cBC","x":220,"y":0.7833},{"p":3,"s":"cBC","x":230,"y":0.7833},{"p":3,"s":"cBC","x":240,"y":0.7725},{"p":3,"s":"cBC","x":250,"y":0.7665}
]},
"spacing": 178,
"bounds": "flush",
"resolve": {"scale": {"color": "independent"}, "legend": {"color": "independent"}},
"hconcat": [
{"width": 327, "height": 600, "transform": [{"filter": "datum.p == 1"}],
 "mark": {"type": "line", "strokeWidth": 4.5, "strokeCap": "round", "strokeJoin": "round"},
 "encoding": {
  "x": {"field": "x", "type": "quantitative", "scale": {"domain": [0.4, 259.6], "nice": false, "zero": false}, "axis": {"values": [50, 100, 150, 200, 250], "title": "mtry"}},
  "y": {"field": "y", "type": "quantitative", "scale": {"domain": [0.484, 0.916], "nice": false, "zero": false}, "axis": {"values": [0.5, 0.6, 0.7, 0.8, 0.9], "format": ".1f", "title": "Accuracy"}},
  "color": {"field": "s", "type": "nominal", "scale": {"domain": ["mN","bN","cN","mSC","bSC","cSC","mBC","bBC","cBC"], "range": ["#FF7F00","#CD6600","#8B4500","#B0E2FF","#8DB6CD","#607B8B","#CAFF70","#A2CD5A","#6E8B3D"]}, "legend": {"title": null, "orient": "none", "legendX": 21, "legendY": 10}}
 }},
{"width": 327, "height": 600, "transform": [{"filter": "datum.p == 2"}],
 "mark": {"type": "line", "strokeWidth": 4.5, "strokeCap": "round", "strokeJoin": "round"},
 "encoding": {
  "x": {"field": "x", "type": "quantitative", "scale": {"domain": [0.4, 259.6], "nice": false, "zero": false}, "axis": {"values": [50, 100, 150, 200, 250], "title": "mtry"}},
  "y": {"field": "y", "type": "quantitative", "scale": {"domain": [0.484, 0.916], "nice": false, "zero": false}, "axis": {"values": [0.5, 0.6, 0.7, 0.8, 0.9], "format": ".1f", "title": "Accuracy"}},
  "color": {"field": "s", "type": "nominal", "scale": {"domain": ["mN","bN","cN","mSC","bSC","cSC","mBC","bBC","cBC"], "range": ["#FF7F00","#CD6600","#8B4500","#B0E2FF","#8DB6CD","#607B8B","#CAFF70","#A2CD5A","#6E8B3D"]}, "legend": {"title": null, "orient": "none", "legendX": 21, "legendY": 10}}
 }},
{"width": 327, "height": 600, "transform": [{"filter": "datum.p == 3"}],
 "mark": {"type": "line", "strokeWidth": 4.5, "strokeCap": "round", "strokeJoin": "round"},
 "encoding": {
  "x": {"field": "x", "type": "quantitative", "scale": {"domain": [0.4, 259.6], "nice": false, "zero": false}, "axis": {"values": [50, 100, 150, 200, 250], "title": "mtry"}},
  "y": {"field": "y", "type": "quantitative", "scale": {"domain": [0.484, 0.916], "nice": false, "zero": false}, "axis": {"values": [0.5, 0.6, 0.7, 0.8, 0.9], "format": ".1f", "title": "Accuracy"}},
  "color": {"field": "s", "type": "nominal", "scale": {"domain": ["mN","bN","cN","mSC","bSC","cSC","mBC","bBC","cBC"], "range": ["#FF7F00","#CD6600","#8B4500","#B0E2FF","#8DB6CD","#607B8B","#CAFF70","#A2CD5A","#6E8B3D"]}, "legend": {"title": null, "orient": "none", "legendX": 21, "legendY": 10}}
 }}
],
"config": {
 "font": "Liberation Sans",
 "view": {"stroke": "black", "strokeWidth": 2},
 "axis": {"domain": false, "grid": false, "tickColor": "black", "tickWidth": 2, "labelColor": "black", "titleColor": "black", "labelFontSize": 23, "titleFontSize": 23, "titleFontWeight": "normal", "labelFont": "Liberation Sans", "titleFont": "Liberation Sans", "labelFlush": false, "labelOverlap": false},
 "axisX": {"tickSize": 15, "labelPadding": 20, "titleY": 108, "titleBaseline": "alphabetic"},
 "axisY": {"tickSize": 14, "labelPadding": 14, "titleX": -89, "titleY": 300, "titleAngle": -90, "titleBaseline": "alphabetic", "titleAlign": "center"},
 "legend": {"columns": 3, "symbolType": "M-3,0L3,0", "symbolSize": 144, "symbolStrokeWidth": 5.5, "labelFontSize": 16, "labelFont": "Liberation Sans", "labelColor": "black", "labelOffset": 19, "columnPadding": 3, "rowPadding": -3, "gridAlign": "all", "padding": 0}
}
}
